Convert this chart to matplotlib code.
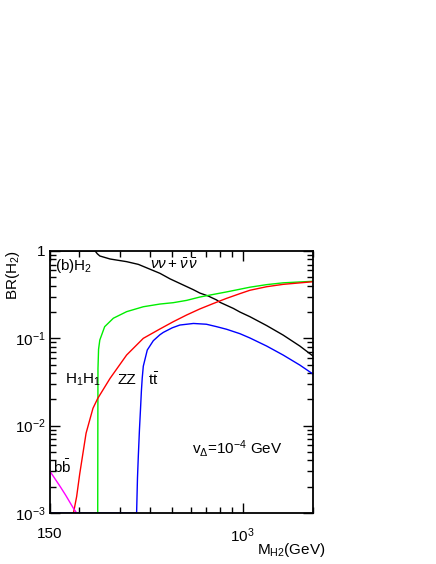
import matplotlib
matplotlib.use("Agg")
import matplotlib.pyplot as plt
from matplotlib.ticker import FixedLocator, NullFormatter, LogLocator

plt.rcParams['font.family'] = ['Liberation Sans', 'DejaVu Sans']
plt.rcParams['mathtext.fontset'] = 'custom'
plt.rcParams['mathtext.rm'] = 'Liberation Sans'
plt.rcParams['mathtext.it'] = 'Liberation Sans:italic'
plt.rcParams['mathtext.bf'] = 'Liberation Sans:bold'

# ---- data ----
m_nunu = [150, 200, 234, 239, 245, 271, 319, 358, 443, 489, 616, 656, 713, 774, 801,
          913, 974, 1074, 1267, 1490, 1757, 2000]
br_nunu = [1.0, 1.0, 1.0, 0.93, 0.877, 0.81, 0.755, 0.703, 0.555, 0.48, 0.36, 0.33, 0.305,
           0.275, 0.258, 0.220, 0.200, 0.177, 0.140, 0.109, 0.0816, 0.0627]

m_h1h1 = [240, 240.3, 240.6, 242, 245, 257, 280, 319, 376, 443, 505, 576, 656, 748, 854,
          974, 1074, 1267, 1490, 2000]
br_h1h1 = [0.001, 0.01, 0.045, 0.075, 0.0957, 0.136, 0.170, 0.202, 0.230, 0.247, 0.256,
           0.272, 0.297, 0.318, 0.340, 0.365, 0.385, 0.412, 0.432, 0.45]

m_zz = [189, 195, 201, 214, 229, 240, 271, 319, 376, 443, 505, 576, 656, 748, 854, 974,
        1074, 1267, 1490, 2000]
br_zz = [0.001, 0.00154, 0.0028, 0.0082, 0.0158, 0.0205, 0.0348, 0.0644, 0.100, 0.128,
         0.155, 0.185, 0.217, 0.25, 0.287, 0.325, 0.355, 0.39, 0.415, 0.445]

m_tt = [150, 351, 352, 355, 358, 362, 366, 369, 372, 376, 391, 415, 443, 458, 500, 539,
        616, 700, 774, 854, 974, 1074, 1267, 1490, 1757, 2000]
br_tt = [0.001, 0.001, 0.001, 0.0025, 0.0045, 0.009, 0.016, 0.025, 0.035, 0.048, 0.0735,
         0.094, 0.110, 0.117, 0.132, 0.142, 0.148, 0.145, 0.136, 0.127, 0.113, 0.101,
         0.0816, 0.0644, 0.0494, 0.039]

m_bb = [150, 166, 175, 189, 195]
br_bb = [0.0030, 0.0020, 0.0016, 0.00113, 0.00100]

xticks = [150, 1000]
xticklabels = ["150", "$10^{3}$"]
yticks = [1e-3, 1e-2, 1e-1, 1]
yticklabels = ["$10^{-3}$", "$10^{-2}$", "$10^{-1}$", "1"]

# ---- figure ----
fig = plt.figure(figsize=(4.36, 5.64), dpi=100)
ax = fig.add_axes([50/436, 1-513/564, 263/436, 262/564])

lw = 1.0
ax.plot(m_nunu, br_nunu, color='black', lw=lw)
ax.plot(m_h1h1, br_h1h1, color='#00ee00', lw=lw)
ax.plot(m_zz, br_zz, color='red', lw=lw)
ax.plot(m_tt, br_tt, color='blue', lw=lw)
ax.plot(m_bb, br_bb, color='magenta', lw=lw)

ax.set_xscale('log')
ax.set_yscale('log')
ax.set_xlim(150, 2000)
ax.set_ylim(1e-3, 1)

ax.xaxis.set_major_locator(FixedLocator(xticks))
ax.set_xticklabels(xticklabels)
ax.xaxis.set_minor_locator(FixedLocator([200, 300, 400, 500, 600, 700, 800, 900, 2000]))
ax.xaxis.set_minor_formatter(NullFormatter())
ax.yaxis.set_major_locator(FixedLocator(yticks))
ax.set_yticklabels(yticklabels)
ax.yaxis.set_minor_locator(LogLocator(base=10, subs=range(2, 10)))
ax.yaxis.set_minor_formatter(NullFormatter())

ax.tick_params(which='both', direction='in', top=True, right=True, labelsize=11, width=1.0)
ax.tick_params(which='major', length=7)
ax.tick_params(which='minor', length=4)
ax.tick_params(axis='x', which='major', pad=10)
ax.tick_params(axis='y', which='major', pad=3)
for s in ax.spines.values():
    s.set_linewidth(1.3)

fs = 11
ax.text(0.019, 0.943, "(b)H$_2$", transform=ax.transAxes, ha='left', va='center', fontsize=fs)
ax.text(0.38, 0.947, r"$\nu\nu+\bar{\nu}\,\bar{\nu}$", transform=ax.transAxes, ha='left', va='center', fontsize=fs)
ax.text(0.057, 0.508, "H$_1$H$_1$", transform=ax.transAxes, ha='left', va='center', fontsize=fs)
ax.text(0.255, 0.508, "ZZ", transform=ax.transAxes, ha='left', va='center', fontsize=fs)
ax.text(0.373, 0.508, r"t$\bar{\mathrm{t}}$", transform=ax.transAxes, ha='left', va='center', fontsize=fs)
ax.text(0.011, 0.177, r"b$\bar{\mathrm{b}}$", transform=ax.transAxes, ha='left', va='center', fontsize=fs)
ax.text(0.54, 0.248, r"v$_{\Delta}$=10$^{-4}$ GeV", transform=ax.transAxes, ha='left', va='center', fontsize=fs)

fig.text(13/436, 1-275/564, "BR(H$_2$)", rotation=90, ha='center', va='center', fontsize=fs)
fig.text(257/436, 1-550/564, "M$_{\\mathrm{H2}}$(GeV)", ha='left', va='center', fontsize=fs)

fig.savefig("out.png", dpi=100)
